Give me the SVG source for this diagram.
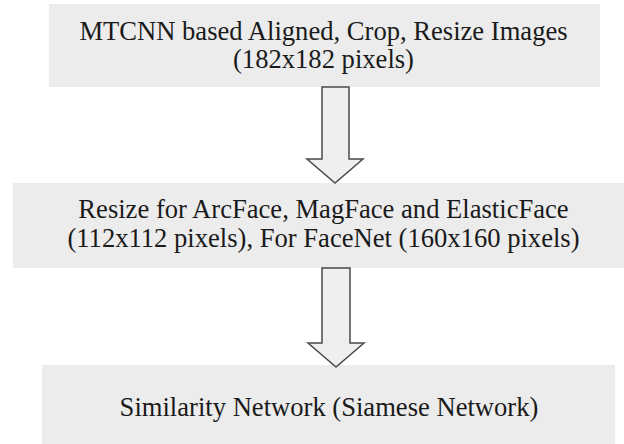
<svg xmlns="http://www.w3.org/2000/svg" width="624" height="444" viewBox="0 0 624 444">
<style>
.box{fill:#ececec;stroke:none}
.lbl{font-size:26.6px;fill:#1a1a1a;text-anchor:middle}
.arr{fill:#efefef;stroke:#4a4a4a;stroke-width:1.5;stroke-linejoin:miter}
</style>
<rect width="624" height="444" fill="#ffffff"/>
<g font-family="Liberation Serif, Times New Roman, DejaVu Serif, serif">
<g id="node-mtcnn">
<rect class="box" x="49" y="4" width="551" height="83"/>
<text class="lbl" x="323.5" y="40">MTCNN based Aligned, Crop, Resize Images</text>
<text class="lbl" x="323.5" y="68">(182x182 pixels)</text>
</g>
<g id="node-resize">
<rect class="box" x="13" y="183" width="611" height="85"/>
<text class="lbl" x="323.5" y="218">Resize for ArcFace, MagFace and ElasticFace</text>
<text class="lbl" x="323.5" y="247">(112x112 pixels), For FaceNet (160x160 pixels)</text>
</g>
<g id="node-similarity">
<rect class="box" x="42" y="365" width="573" height="79"/>
<text class="lbl" x="329" y="416">Similarity Network (Siamese Network)</text>
</g>
</g>
<g id="connectors">
<polygon class="arr" points="322,87 349,87 349,159 363,159 335,183 307,159 322,159"/>
<polygon class="arr" points="322,268 350,268 350,343 364,343 336,367 308,343 322,343"/>
</g>
</svg>
